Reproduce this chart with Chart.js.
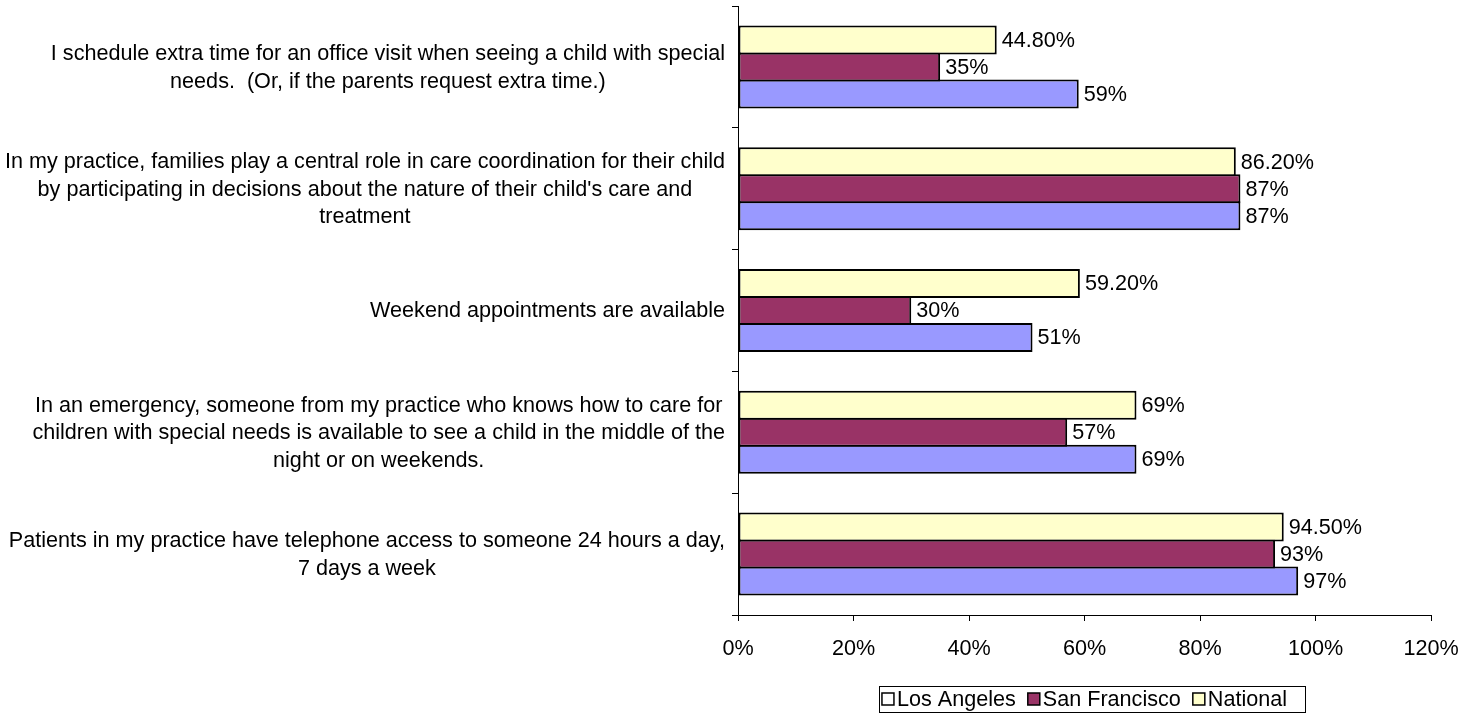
<!DOCTYPE html>
<html>
<head>
<meta charset="utf-8">
<script src="https://cdn.jsdelivr.net/npm/chart.js@4/dist/chart.umd.min.js"></script>
<style>
  html, body { margin: 0; padding: 0; background: #fff; }
  #c { display: block; }
</style>
</head>
<body>
<canvas id="c" width="1476" height="721"></canvas>
<script>
// Survey statements (one entry per row, already broken into lines)
const categories = [
  ["I schedule extra time for an office visit when seeing a child with special",
   "needs.  (Or, if the parents request extra time.)"],
  ["In my practice, families play a central role in care coordination for their child",
   "by participating in decisions about the nature of their child's care and",
   "treatment"],
  ["Weekend appointments are available"],
  ["In an emergency, someone from my practice who knows how to care for",
   "children with special needs is available to see a child in the middle of the",
   "night or on weekends."],
  ["Patients in my practice have telephone access to someone 24 hours a day,",
   "7 days a week"]
];

// Percent of practices answering yes
const losAngeles   = [59, 87, 51, 69, 97];
const sanFrancisco = [35, 87, 30, 57, 93];
const national     = [44.8, 86.2, 59.2, 69, 94.5];

// Value axis
const xMin = 0;
const xMax = 120;
const xStep = 20;

const FONT = "'Liberation Sans', Arial, sans-serif";
const FONT_SIZE = 21.6;
Chart.defaults.font.family = FONT;
Chart.defaults.font.size = FONT_SIZE;
Chart.defaults.color = '#000';

const fmtPct = v => (Number.isInteger(v) ? String(v) : v.toFixed(2)) + '%';

// Value text to the right of every bar
const valueLabels = {
  id: 'valueLabels',
  afterDatasetsDraw(chart) {
    const ctx = chart.ctx;
    ctx.save();
    ctx.font = FONT_SIZE + 'px ' + FONT;
    ctx.textBaseline = 'middle';
    ctx.textAlign = 'left';
    chart.data.datasets.forEach((ds, i) => {
      chart.getDatasetMeta(i).data.forEach((bar, j) => {
        const txt = fmtPct(ds.data[j]);
        const w = ctx.measureText(txt).width;
        const x = bar.x + 5;
        ctx.fillStyle = '#fff';
        ctx.fillRect(x - 2, bar.y - 11, w + 4, 22);
        ctx.fillStyle = '#000';
        ctx.fillText(txt, x, bar.y + 1);
      });
    });
    ctx.restore();
  }
};

// Category text: each block right-aligned to the axis, lines centred within the block
const categoryText = {
  id: 'categoryText',
  afterDraw(chart) {
    const ctx = chart.ctx;
    const y = chart.scales.y;
    const lineH = 27.5;
    ctx.save();
    ctx.font = FONT_SIZE + 'px ' + FONT;
    ctx.textBaseline = 'middle';
    ctx.textAlign = 'center';
    ctx.fillStyle = '#000';
    chart.data.labels.forEach((lines, i) => {
      const cy = y.getPixelForValue(i);
      const maxW = Math.max(...lines.map(l => ctx.measureText(l).width));
      const cx = y.right - 13 - maxW / 2;
      lines.forEach((l, k) => {
        ctx.fillText(l, cx, cy + (k - (lines.length - 1) / 2) * lineH + 1);
      });
    });
    ctx.restore();
  }
};

// Boxed legend under the value axis
const boxedLegend = {
  id: 'boxedLegend',
  afterDraw(chart) {
    const ctx = chart.ctx;
    const area = chart.chartArea;
    const items = chart.data.datasets.slice().reverse();
    const box = 12, gapText = 3, gapItem = 12;
    ctx.save();
    ctx.font = FONT_SIZE + 'px ' + FONT;
    ctx.textBaseline = 'middle';
    ctx.textAlign = 'left';
    const widths = items.map(d => ctx.measureText(d.label).width);
    const total = widths.reduce((s, w) => s + box + gapText + w, 0) + gapItem * (items.length - 1);
    let x = (area.left + area.right) / 2 - total / 2;
    const cy = chart.height - 22;
    ctx.strokeStyle = '#000';
    ctx.lineWidth = 1;
    ctx.strokeRect(Math.round(x - 3) + 0.5, Math.round(cy - 13) + 0.5, Math.round(total + 21), 26);
    items.forEach((d, i) => {
      ctx.fillStyle = d.legendFill;
      ctx.fillRect(x, cy - box / 2, box, box);
      ctx.lineWidth = 1.5;
      ctx.strokeRect(x, cy - box / 2, box, box);
      ctx.fillStyle = '#000';
      ctx.fillText(d.label, x + box + gapText, cy + 1);
      x += box + gapText + widths[i] + gapItem;
    });
    ctx.restore();
  }
};

new Chart(document.getElementById('c'), {
  type: 'bar',
  data: {
    labels: categories,
    datasets: [
      { label: 'National', data: national, backgroundColor: '#FFFFCC', legendFill: '#FFFFCC' },
      { label: 'San Francisco', data: sanFrancisco, backgroundColor: '#993366', legendFill: '#993366' },
      { label: 'Los Angeles', data: losAngeles, backgroundColor: '#9999FF', legendFill: '#FFFFFF' }
    ]
  },
  options: {
    indexAxis: 'y',
    responsive: false,
    animation: false,
    layout: { padding: { top: 6, right: 45, bottom: 56, left: 0 } },
    datasets: {
      bar: {
        borderColor: '#000',
        borderWidth: 2,
        borderSkipped: false,
        categoryPercentage: 0.665,
        barPercentage: 1.074
      }
    },
    scales: {
      x: {
        min: xMin,
        max: xMax,
        ticks: { stepSize: xStep, callback: v => v + '%', padding: 15, maxRotation: 0 },
        grid: { drawOnChartArea: false, tickLength: 6, tickColor: '#000' },
        border: { color: '#000', width: 1 },
        afterFit(s) { s.height = 50; }
      },
      y: {
        ticks: { display: false },
        grid: { drawOnChartArea: false, tickLength: 6, tickColor: '#000', offset: true },
        border: { color: '#000', width: 1 },
        afterFit(s) { s.width = 738; }
      }
    },
    plugins: {
      legend: { display: false },
      tooltip: { enabled: false }
    }
  },
  plugins: [valueLabels, categoryText, boxedLegend]
});
</script>
</body>
</html>
